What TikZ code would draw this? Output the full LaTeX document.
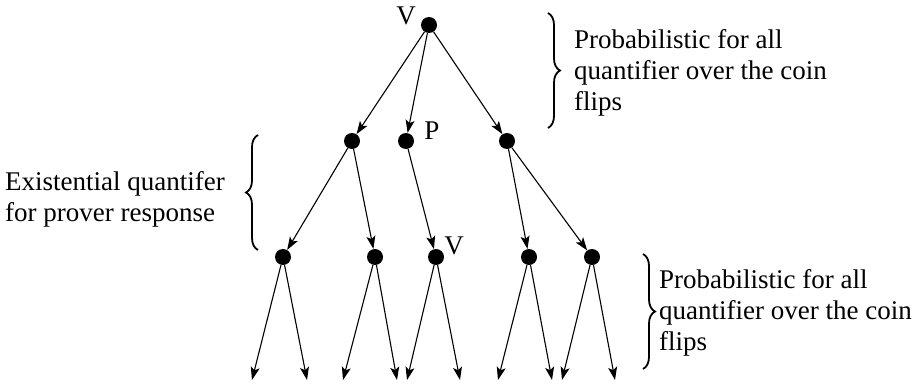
\documentclass[tikz,border=0pt]{standalone}
\usepackage{fontspec}
\setmainfont{Liberation Serif}
\usetikzlibrary{arrows.meta,decorations.pathreplacing}

\begin{document}
\begin{tikzpicture}[x=1pt,y=-1pt,
    dot/.style={circle,fill=black,inner sep=0pt,minimum size=16pt},
    edge/.style={-{Stealth[length=13pt,width=9pt,inset=3pt]},line width=1.1pt},
    brace/.style={decorate,decoration={brace,amplitude=12pt},line width=1.8pt},
    lbl/.style={font=\fontsize{27}{31}\selectfont,inner sep=0pt},
    note/.style={lbl,align=left,anchor=west}
  ]
    \useasboundingbox (0,0) rectangle (924,383);
    % tree
    \node[dot] (root) at (429,25) {};
    \node[dot] (a) at (352,141) {};
    \node[dot] (b) at (406,141) {};
    \node[dot] (c) at (507,141) {};
    \node[dot] (a1) at (283,257) {};
    \node[dot] (a2) at (375,257) {};
    \node[dot] (b1) at (436,257) {};
    \node[dot] (c1) at (529,257) {};
    \node[dot] (c2) at (592,257) {};
    \node[lbl] at (406,16) {V};
    \node[lbl] at (432,131) {P};
    \node[lbl] at (454,246) {V};
    \draw[edge] (root) -- (a);
    \draw[edge] (root) -- (b);
    \draw[edge] (root) -- (c);
    \draw[edge] (a) -- (a1);
    \draw[edge] (a) -- (a2);
    \draw[edge] (b) -- (b1);
    \draw[edge] (c) -- (c1);
    \draw[edge] (c) -- (c2);
    % leaves
    \foreach \p/\l/\r in {a1/252/307,a2/343/397,b1/407/460,c1/498/552,c2/562/615}{
      \coordinate (\p l) at (\l,380);
      \coordinate (\p r) at (\r,380);
      \draw[edge] (\p) -- (\p l);
      \draw[edge] (\p) -- (\p r);
    }
    % braces and notes
    \coordinate (t1) at (548,13);
    \coordinate (t2) at (548,128);
    \draw[brace] (t1) -- (t2);
    \node[note] (top) at (574,73) {Probabilistic for all\\quantifier over the coin\\flips};
    \coordinate (m1) at (258,250);
    \coordinate (m2) at (258,135);
    \draw[brace] (m1) -- (m2);
    \node[note] (mid) at (5,199) {Existential quantifer\\for prover response};
    \coordinate (b1t) at (643,254);
    \coordinate (b2t) at (643,369);
    \draw[brace] (b1t) -- (b2t);
    \node[note] (bot) at (659,313) {Probabilistic for all\\quantifier over the coin\\flips};
  \end{tikzpicture}
\end{document}
